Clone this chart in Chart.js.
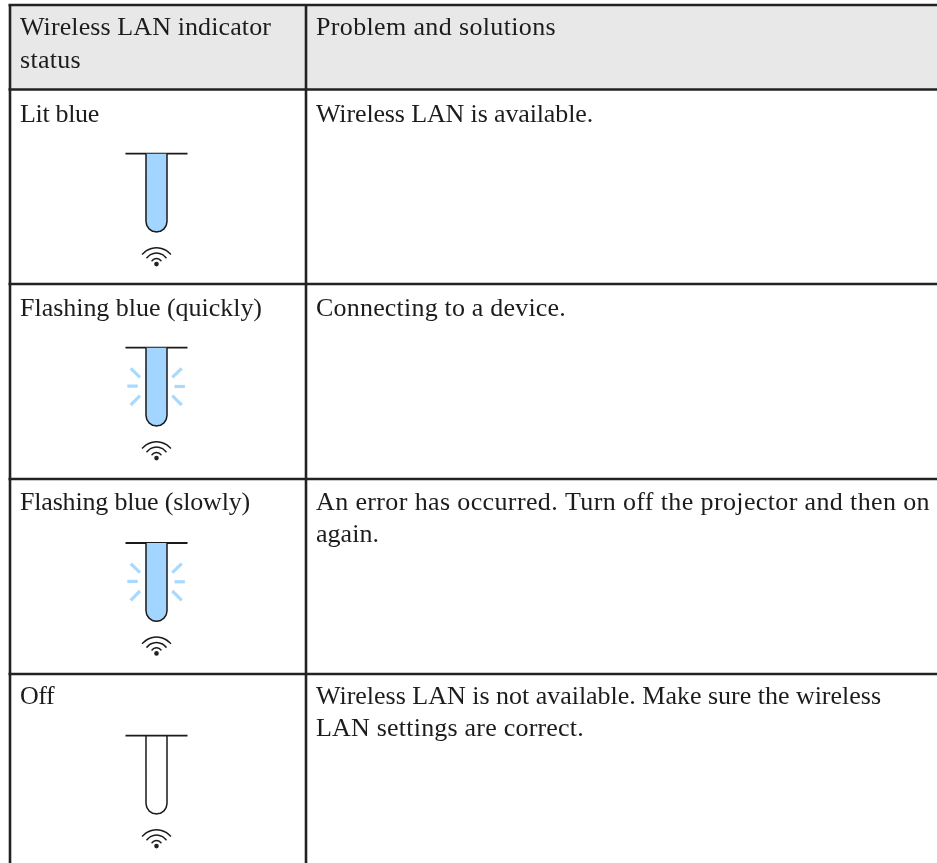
<!DOCTYPE html>
<html><head><meta charset="utf-8">
<script src="https://cdn.jsdelivr.net/npm/chart.js@4"></script>
<style>html,body{margin:0;padding:0;background:#fff}canvas{display:block}</style>
</head><body>
<canvas id="c" width="937" height="863"></canvas>
<script>
// Table structure, in the chart's data units
const columnEdges = [10, 306, 937];
const rowEdges = [5, 89.5, 284, 479, 674, 863];
const headerLines = [["Wireless LAN indicator", "status"], ["Problem and solutions"]];
const headerWidths = [[251, 61], [240]];
const statusLabels = ["Lit blue", "Flashing blue (quickly)", "Flashing blue (slowly)", "Off"];
const statusWidths = [79, 242, 230, 34];
const solutionLines = [
  ["Wireless LAN is available."],
  ["Connecting to a device."],
  ["An error has occurred. Turn off the projector and then on", "again."],
  ["Wireless LAN is not available. Make sure the wireless", "LAN settings are correct."]
];
const solutionWidths = [[277], [250], [614, 63], [565, 268]];
const headerBaselines = [35, 67.5];
const rowBaselines = [[121.5], [315.5], [510, 542], [703.5, 736]];
// Indicator drawings
const indicatorCenterX = 156.5;
const indicatorTops = [153.7, 347.7, 543, 735.7];
const indicatorFilled = [true, true, true, false];
const indicatorFlashing = [false, true, true, false];
const capBar = [[-31, 0], [31, 0]];
const tubeOutline = [[-10.5,0],[-10.5,67.8],[-9.7,71.8],[-7.4,75.2],[-4,77.5],[0,78.3],[4,77.5],[7.4,75.2],[9.7,71.8],[10.5,67.8],[10.5,0]];
const rays = [
  [[-25.8,20.6],[-16.5,29.6]], [[-29.2,38.4],[-18.8,38.4]], [[-25.8,57.3],[-16.5,48]],
  [[25.2,20.6],[15.8,29.6]], [[18,38.8],[28.4,38.8]], [[25.2,57.3],[15.8,48]]
];
const wifiArcs = [
  [[-14.5,100.8],[-10,97],[-5,94.8],[0,94],[5,94.8],[10,97],[14.5,100.8]],
  [[-10,104.6],[-6,101],[0,99.4],[6,101],[10,104.6]],
  [[-5,107.4],[-2.5,105.4],[0,104.8],[2.5,105.4],[5,107.4]]
];
const wifiDot = [0, 110.4];

const ink = "#1a1a1a", blue = "#a2d5ff", rayBlue = "#a8d9ff", headerFill = "#e8e8e8", rule = "#222222";
const lineSet = (pts, color, width, extra) => Object.assign({
  type: "scatter", showLine: true, data: pts.map(p => ({x: p[0], y: p[1]})),
  borderColor: color, borderWidth: width, pointRadius: 0, tension: 0.01, fill: false, clip: false
}, extra || {});

const datasets = [];
const place = (pts, cy) => pts.map(p => [indicatorCenterX + p[0], cy + p[1]]);

indicatorTops.forEach((top, i) => {
  if (indicatorFlashing[i]) rays.forEach(r => datasets.push(lineSet(place(r, top), rayBlue, 3.2)));
  datasets.push(lineSet(place(tubeOutline, top), ink, 1.5,
    indicatorFilled[i] ? {fill: "shape", backgroundColor: blue} : {}));
  datasets.push(lineSet(place(capBar, top), ink, 1.8));
  wifiArcs.forEach(a => datasets.push(lineSet(place(a, top), ink, 1.5, {tension: 0.3})));
  datasets.push({type: "scatter", data: place([wifiDot], top).map(p => ({x: p[0], y: p[1]})),
    pointRadius: 2.3, pointBackgroundColor: "#2a1f1f", pointBorderWidth: 0, clip: false});
});
// header band
datasets.push(lineSet([[columnEdges[0], rowEdges[0]], [columnEdges[2], rowEdges[0]], [columnEdges[2], rowEdges[1]], [columnEdges[0], rowEdges[1]]],
  "rgba(0,0,0,0)", 0, {fill: "shape", backgroundColor: headerFill, order: 10}));
// horizontal rules
rowEdges.slice(0, 5).forEach(y => datasets.push(lineSet([[columnEdges[0] - 1.5, y], [columnEdges[2], y]], rule, 2.6)));
// vertical rules
columnEdges.slice(0, 2).forEach(x => datasets.push(lineSet([[x, rowEdges[0]], [x, rowEdges[5]]], rule, 2.6)));

const textPlugin = {
  id: "tableText",
  afterDatasetsDraw(chart) {
    const {ctx, scales: {x, y}} = chart;
    ctx.save();
    ctx.fillStyle = "#1c1c1c";
    ctx.font = "26px 'Liberation Serif'";
    ctx.textBaseline = "alphabetic";
    ctx.textAlign = "left";
    const put = (t, px, base, w) => {
      ctx.letterSpacing = "0px";
      const gap = (w - ctx.measureText(t).width) / t.length;
      ctx.letterSpacing = gap.toFixed(3) + "px";
      ctx.fillText(t, px, y.getPixelForValue(base));
    };
    const col1 = x.getPixelForValue(columnEdges[0] + 10), col2 = x.getPixelForValue(columnEdges[1] + 10);
    headerLines[0].forEach((t, i) => put(t, col1, headerBaselines[i], headerWidths[0][i]));
    headerLines[1].forEach((t, i) => put(t, col2, headerBaselines[i], headerWidths[1][i]));
    statusLabels.forEach((t, r) => put(t, col1, rowBaselines[r][0], statusWidths[r]));
    solutionLines.forEach((lines, r) => lines.forEach((t, i) => put(t, col2, rowBaselines[r][i], solutionWidths[r][i])));
    ctx.restore();
  }
};
const backgroundPlugin = {
  id: "whiteBg",
  beforeDraw(chart) { const {ctx, width, height} = chart; ctx.save(); ctx.fillStyle = "#fff"; ctx.fillRect(0, 0, width, height); ctx.restore(); }
};

new Chart(document.getElementById("c"), {
  type: "scatter",
  data: {datasets},
  options: {
    responsive: false, animation: false,
    layout: {padding: 0, autoPadding: false},
    plugins: {legend: {display: false}, tooltip: {enabled: false}, title: {display: false}},
    scales: {
      x: {type: "linear", min: 0, max: 937, display: false},
      y: {type: "linear", min: 0, max: 863, reverse: true, display: false}
    }
  },
  plugins: [backgroundPlugin, textPlugin]
});
</script>
</body></html>
